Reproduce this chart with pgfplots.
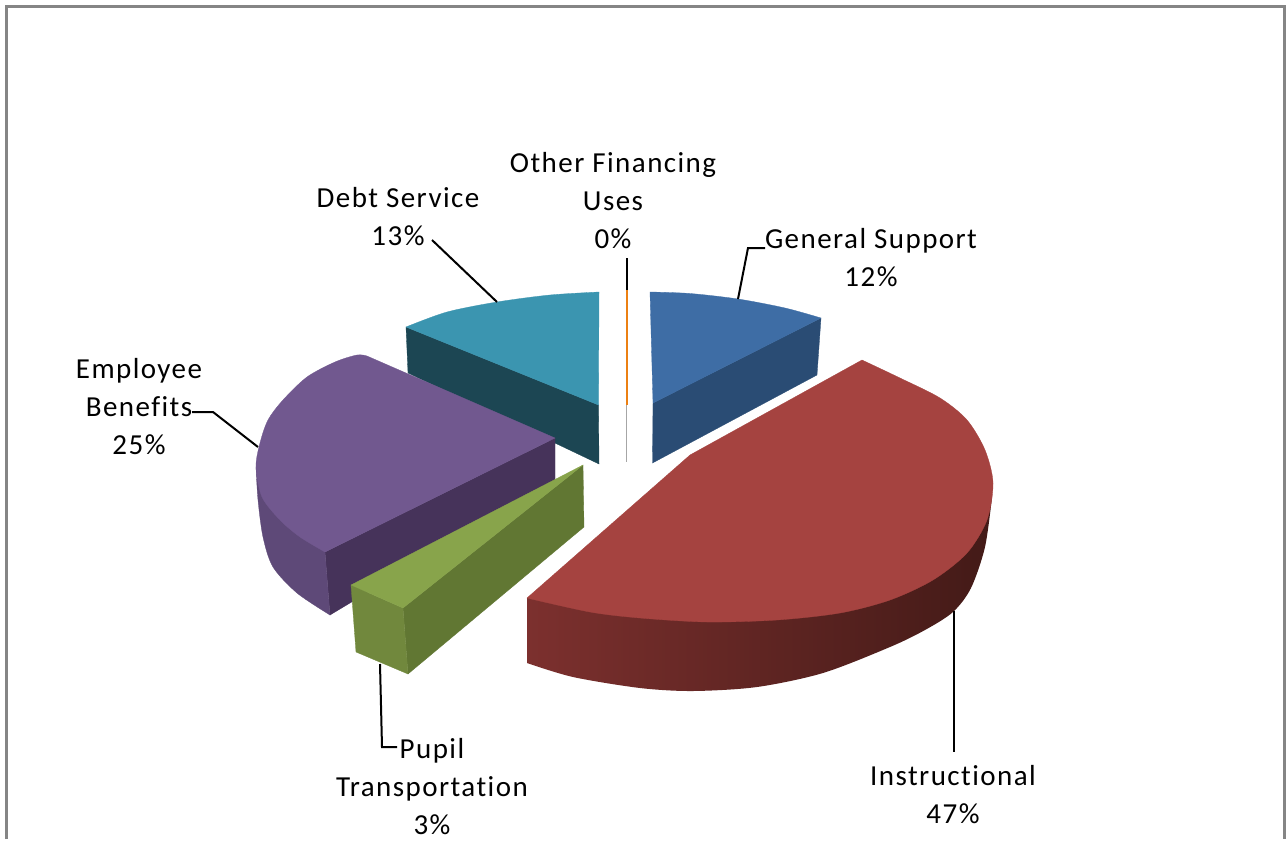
\documentclass[border=0pt]{standalone}
\usepackage{pgfplots}
\pgfplotsset{compat=1.18}
\usepackage{fontspec}
\setmainfont[LetterSpace=5,Ligatures=CommonOff]{Carlito}
\definecolor{tred}{HTML}{A54340}
\definecolor{sredL}{HTML}{7C302E}
\definecolor{sredM}{HTML}{4C1F1B}
\definecolor{sredR}{HTML}{431A17}
\definecolor{tpur}{HTML}{71588F}
\definecolor{opur}{HTML}{5E4978}
\definecolor{ipur}{HTML}{46335A}
\definecolor{tgrn}{HTML}{88A44B}
\definecolor{fgrn}{HTML}{71883D}
\definecolor{sgrn}{HTML}{617733}
\definecolor{ttea}{HTML}{3B95B0}
\definecolor{stea}{HTML}{1C4653}
\definecolor{tblu}{HTML}{3E6DA5}
\definecolor{sblu}{HTML}{2A4C74}
\definecolor{frm}{HTML}{858585}
\begin{document}
\begin{tikzpicture}
\begin{axis}[
  scale only axis, width=1288pt, height=839pt,
  xmin=0, xmax=1288, ymin=0, ymax=839, y dir=reverse,
  hide axis, clip=false,
  nodes={font=\fontsize{29}{38}\selectfont, text=black, align=center, inner sep=0pt},
]
% background and frame
\addplot[draw=none, fill=white, forget plot] coordinates {(0,0)(1288,0)(1288,839)(0,839)} --cycle;
\addplot[frm, line width=3pt, forget plot] coordinates {(6,839)(6,6)(1284,6)(1284,839)};

% Debt Service
\addplot[fill=stea, draw=stea, line width=.3pt] coordinates {(406,327)(598.5,405)(599,464)(408,373)} --cycle;
\addplot[smooth, fill=ttea, draw=ttea, line width=.3pt] coordinates {(406,327)(447,312)(497,302)(550,295)(599,292)} --(axis cs:598.5,405)--cycle;

% Other Financing Uses sliver
\addplot[draw=black!35, line width=.8pt] coordinates {(626.5,405)(626.5,462)};
\addplot[color=orange!70!brown, line width=2pt] coordinates {(626.5,290)(626.5,405)};

% General Support
\addplot[fill=sblu, draw=sblu, line width=.3pt] coordinates {(653,403)(821,318)(817,375)(652.5,463)} --cycle;
\addplot[smooth, fill=tblu, draw=tblu, line width=.3pt] coordinates {(650,292)(690,293.5)(738,299)(785,308)(821,318)} --(axis cs:653,403)--cycle;

% Employee Benefits
\addplot[fill=ipur, draw=ipur, line width=.3pt] coordinates {(325,552)(555,438)(555,480)(330,615)} --cycle;
\addplot[smooth, fill=opur, draw=opur, line width=.3pt] coordinates {(256,467)(258,500)(263,537)(273,567)(297,593)(330,615)} --(axis cs:325,552)--cycle;
\addplot[smooth, fill=tpur, draw=tpur, line width=.3pt] coordinates {(325,552)(300,537)(280,520)(262,497)(256,467)(260,443)(268,420)(283,400)(307,377)(335,362)(357,355)(367,356)} --(axis cs:555,438)--cycle;

% Pupil Transportation
\addplot[fill=sgrn, draw=sgrn, line width=.3pt] coordinates {(403,608)(583,465)(584,527)(408,674)} --cycle;
\addplot[fill=fgrn, draw=fgrn, line width=.3pt] coordinates {(351,585)(403,608)(408,674)(356,652)} --cycle;
\addplot[fill=tgrn, draw=tgrn, line width=.3pt] coordinates {(351,585)(583,465)(403,608)} --cycle;

% Instructional
\addplot[smooth, left color=sredL, middle color=sredM, right color=sredR, draw=none] coordinates {(527,663)(573,677)(640,688)(693,691)(757,687)(823,673)(890,647)(925,630)(953,612)(971,588)(985,547)(992,497)} --(axis cs:527,598)--cycle;
\addplot[smooth, fill=tred, draw=tred, line width=.3pt] coordinates {(527,598)(590,612)(640,618)(707,622)(777,620)(840,613)(890,600)(933,580)(967,553)(987,520)(993,483)(985,450)(967,420)(940,398)(900,378)(862,360)} --(axis cs:690,455)--cycle;

% Leader lines
\addplot[black, line width=2pt] coordinates {(432,240)(497,302)};
\addplot[black, line width=2pt] coordinates {(765,248)(748,248)(738,299)};
\addplot[black, line width=2pt] coordinates {(627,258)(627,290)};
\addplot[black, line width=2pt] coordinates {(192,412)(213,412)(258,447)};
\addplot[black, line width=2pt] coordinates {(954,611)(954,752)};
\addplot[black, line width=2pt] coordinates {(380,664)(382,747)(397,747)};

% Labels
\node at (axis cs:613,201) {Other Financing\\Uses\\0\%};
\node at (axis cs:398,217) {Debt Service\\13\%};
\node at (axis cs:871,258) {General Support\\12\%};
\node at (axis cs:139,407) {Employee\\Benefits\\25\%};
\node at (axis cs:953,795) {Instructional\\47\%};
\node at (axis cs:432,787) {Pupil\\Transportation\\3\%};
\end{axis}
\end{tikzpicture}
\end{document}
